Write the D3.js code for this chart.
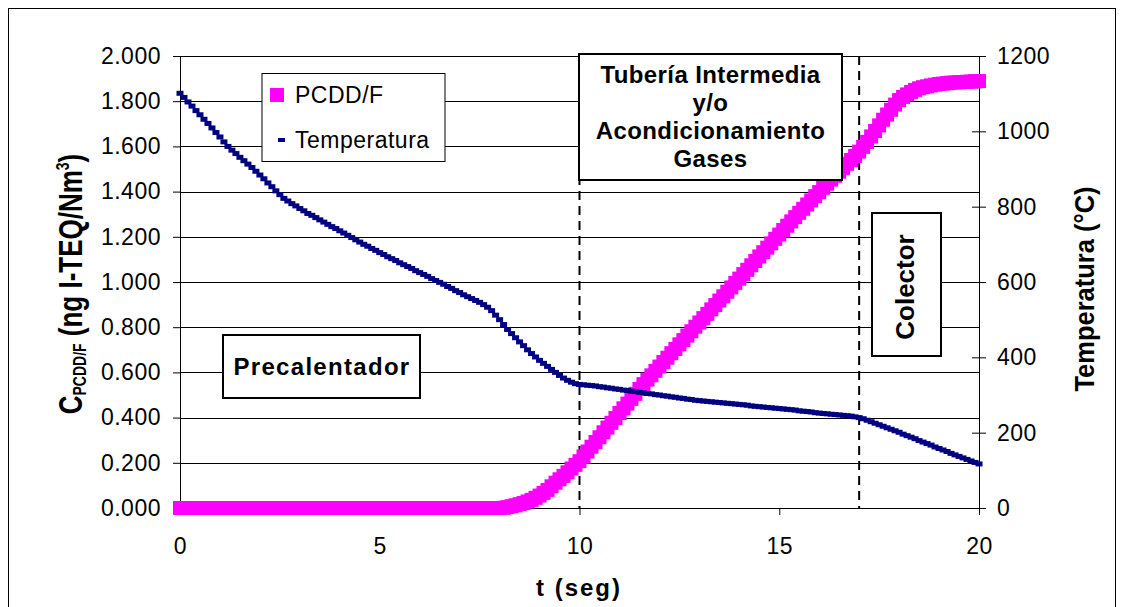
<!DOCTYPE html>
<html>
<head>
<meta charset="utf-8">
<script src="https://cdnjs.cloudflare.com/ajax/libs/d3/7.8.5/d3.min.js"></script>
<style>
  html, body { margin: 0; padding: 0; background: #fff; }
  svg { display: block; }
  text { font-family: "Liberation Sans", Arial, sans-serif; fill: #000; }
</style>
</head>
<body>
<svg id="chart" width="1124" height="607"></svg>
<script>
// Sampling step of the recorded profiles (seconds)
const sampleStep = 0.1;

// Temperature of the gas stream (°C), one reading every 0.1 s from t = 0 to t = 20 s
const temperatura = [
  1101, 1090, 1078, 1067, 1055, 1044, 1032, 1021, 1009, 997,
  985, 972, 960, 950, 941, 931, 922, 913, 904, 894,
  884, 874, 863, 853, 842, 832, 822, 815, 808, 802,
  795, 789, 782, 777, 771, 765, 759, 753, 747, 742,
  736, 730, 724, 718, 712, 706, 700, 695, 689, 684,
  678, 673, 667, 662, 657, 651, 646, 641, 636, 630,
  625, 620, 615, 609, 604, 599, 594, 588, 583, 577,
  572, 566, 561, 556, 551, 546, 540, 533, 524, 512,
  500, 487, 474, 463, 452, 441, 431, 420, 410, 401,
  392, 384, 376, 368, 360, 352, 345, 339, 334, 330,
  328, 327, 326, 325, 324, 322, 321, 319, 318, 316,
  315, 313, 312, 310, 309, 307, 306, 304, 303, 301,
  300, 298, 297, 295, 294, 292, 291, 289, 288, 286,
  285, 284, 283, 282, 281, 280, 279, 278, 277, 276,
  275, 274, 273, 271, 270, 269, 268, 267, 266, 265,
  264, 263, 262, 261, 260, 258, 257, 256, 255, 253,
  252, 251, 250, 249, 248, 247, 246, 245, 244, 242,
  240, 237, 233, 229, 225, 221, 217, 213, 209, 205,
  201, 196, 192, 188, 184, 179, 175, 171, 167, 162,
  158, 154, 150, 145, 141, 137, 133, 129, 125, 121,
  117
];

// PCDD/F concentration (ng I-TEQ/Nm3), same time base
const pcdd = [
  0, 0, 0, 0, 0, 0, 0, 0, 0, 0,
  0, 0, 0, 0, 0, 0, 0, 0, 0, 0,
  0, 0, 0, 0, 0, 0, 0, 0, 0, 0,
  0, 0, 0, 0, 0, 0, 0, 0, 0, 0,
  0, 0, 0, 0, 0, 0, 0, 0, 0, 0,
  0, 0, 0, 0, 0, 0, 0, 0, 0, 0,
  0, 0, 0, 0, 0, 0, 0, 0, 0, 0,
  0, 0, 0, 0, 0, 0, 0, 0, 0, 0,
  0, 0.001, 0.004, 0.008, 0.012, 0.017, 0.022, 0.029, 0.036, 0.045,
  0.055, 0.067, 0.080, 0.096, 0.112, 0.127, 0.142, 0.158, 0.175, 0.191,
  0.207, 0.228, 0.250, 0.271, 0.292, 0.313, 0.335, 0.356, 0.377, 0.398,
  0.420, 0.441, 0.462, 0.483, 0.505, 0.527, 0.548, 0.568, 0.587, 0.607,
  0.626, 0.646, 0.665, 0.685, 0.704, 0.724, 0.743, 0.763, 0.782, 0.802,
  0.821, 0.840, 0.859, 0.879, 0.898, 0.918, 0.937, 0.957, 0.976, 0.996,
  1.015, 1.035, 1.054, 1.074, 1.093, 1.113, 1.132, 1.152, 1.171, 1.191,
  1.210, 1.230, 1.249, 1.268, 1.287, 1.306, 1.324, 1.343, 1.361, 1.380,
  1.398, 1.417, 1.435, 1.453, 1.470, 1.488, 1.505, 1.523, 1.540, 1.558,
  1.577, 1.598, 1.620, 1.644, 1.668, 1.693, 1.718, 1.741, 1.762, 1.785,
  1.805, 1.819, 1.830, 1.841, 1.850, 1.857, 1.862, 1.866, 1.870, 1.873,
  1.876, 1.878, 1.880, 1.882, 1.883, 1.884, 1.885, 1.886, 1.887, 1.888,
  1.889
];

// Axis ticks
const xTicks = [0, 5, 10, 15, 20];
const leftTicks = [0, 0.2, 0.4, 0.6, 0.8, 1.0, 1.2, 1.4, 1.6, 1.8, 2.0];
const rightTicks = [0, 200, 400, 600, 800, 1000, 1200];

// Zone boundaries (s)
const zoneLimits = [10, 17];

// Legend entries
const seriesNames = ["PCDD/F", "Temperatura"];

const svg = d3.select("#chart");
const W = 1124, H = 607;
const margin = { top: 56, right: 145, bottom: 99, left: 180 };
const plotW = W - margin.left - margin.right;
const plotH = H - margin.top - margin.bottom;

const x = d3.scaleLinear().domain([0, 20]).range([0, plotW]);
const yL = d3.scaleLinear().domain([0, 2]).range([plotH, 0]);
const yR = d3.scaleLinear().domain([0, 1200]).range([plotH, 0]);

// Outer frame
svg.append("rect")
  .attr("x", 8.5).attr("y", 8.5)
  .attr("width", 1107).attr("height", 640)
  .attr("fill", "#fff").attr("stroke", "#000").attr("stroke-width", 1);

const g = svg.append("g").attr("transform", `translate(${margin.left},${margin.top})`);

// Horizontal gridlines
g.append("g").selectAll("line")
  .data(leftTicks.filter(d => d > 0))
  .join("line")
  .attr("x1", 0).attr("x2", plotW)
  .attr("y1", d => Math.round(yL(d)) + 0.5).attr("y2", d => Math.round(yL(d)) + 0.5)
  .attr("stroke", "#000").attr("stroke-width", 1);

// Axes
const fontReg = "23px";
const axL = g.append("g")
  .call(d3.axisLeft(yL).tickValues(leftTicks).tickFormat(d3.format(".3f"))
    .tickSize(7).tickSizeOuter(0).tickPadding(12));
const axR = g.append("g").attr("transform", `translate(${plotW},0)`)
  .call(d3.axisRight(yR).tickValues(rightTicks).tickFormat(d3.format("d"))
    .tickSize(7).tickSizeOuter(0).tickPadding(11));
axR.selectAll(".tick line").attr("x1", -7);
const axB = g.append("g").attr("transform", `translate(0,${plotH})`)
  .call(d3.axisBottom(x).tickValues(xTicks).tickFormat(d3.format("d"))
    .tickSize(7).tickSizeOuter(0).tickPadding(23));

[axL, axR, axB].forEach(a => {
  a.selectAll("path.domain").attr("stroke", "#000").attr("stroke-width", 1);
  a.selectAll(".tick line").attr("stroke", "#000");
  a.selectAll("text")
    .style("font-family", '"Liberation Sans", Arial, sans-serif')
    .style("font-size", fontReg).style("letter-spacing", "0.5px").attr("fill", "#000");
});

// Zone boundaries
g.append("g").selectAll("line")
  .data(zoneLimits)
  .join("line")
  .attr("x1", d => x(d)).attr("x2", d => x(d))
  .attr("y1", yL(2)).attr("y2", yL(0))
  .attr("stroke", "#000").attr("stroke-width", 2)
  .attr("stroke-dasharray", "9,6");

// PCDD/F markers
const pts = pcdd.map((v, i) => ({ t: i * sampleStep, v }));
g.append("g").selectAll("rect")
  .data(pts)
  .join("rect")
  .attr("x", d => x(d.t) - 7).attr("y", d => yL(d.v) - 7)
  .attr("width", 14).attr("height", 14)
  .attr("fill", "#ff00ff");

// Temperature markers
const tpts = temperatura.map((v, i) => ({ t: i * sampleStep, v }));
g.append("g").selectAll("rect")
  .data(tpts)
  .join("rect")
  .attr("x", d => x(d.t) - 3.5).attr("y", d => yR(d.v) - 2.5)
  .attr("width", 7).attr("height", 5)
  .attr("fill", "#000080");

// Axis titles
svg.append("text")
  .attr("x", 579).attr("y", 596)
  .attr("text-anchor", "middle")
  .style("font-size", "24px").style("font-weight", "bold").style("letter-spacing", "2px")
  .text("t (seg)");

const yTitle = svg.append("text")
  .attr("transform", "translate(82,284) rotate(-90) scale(1,1.3)")
  .attr("text-anchor", "middle")
  .style("font-size", "26px").style("font-weight", "bold");
yTitle.append("tspan").text("C");
yTitle.append("tspan").attr("dy", 3).style("font-size", "14px").text("PCDD/F");
yTitle.append("tspan").attr("dy", -3).text(" (ng I-TEQ/Nm");
yTitle.append("tspan").attr("dy", -10).style("font-size", "14px").text("3");
yTitle.append("tspan").attr("dy", 10).text(")");

svg.append("text")
  .attr("transform", "translate(1094,289) rotate(-90) scale(1,1.1)")
  .attr("text-anchor", "middle")
  .style("font-size", "25.5px").style("font-weight", "bold")
  .text("Temperatura (°C)");

// Zone labels
function box(x0, y0, x1, y1, sw) {
  svg.append("rect")
    .attr("x", x0).attr("y", y0).attr("width", x1 - x0).attr("height", y1 - y0)
    .attr("fill", "#fff").attr("stroke", "#000").attr("stroke-width", sw);
}

box(579, 54, 842, 180, 2);
const tuberia = ["Tubería Intermedia", "y/o", "Acondicionamiento", "Gases"];
svg.append("g").selectAll("text")
  .data(tuberia)
  .join("text")
  .attr("x", 710.5).attr("y", (d, i) => 83 + i * 28)
  .attr("text-anchor", "middle")
  .style("font-size", "24px").style("font-weight", "bold").style("letter-spacing", "0.4px")
  .text(d => d);

box(223, 335, 420, 398, 2);
svg.append("text")
  .attr("x", 322).attr("y", 375)
  .attr("text-anchor", "middle")
  .style("font-size", "24px").style("font-weight", "bold").style("letter-spacing", "1.3px")
  .text("Precalentador");

box(872, 213, 941, 356, 2);
svg.append("text")
  .attr("transform", "translate(914,287) rotate(-90)")
  .attr("text-anchor", "middle")
  .style("font-size", "26px").style("font-weight", "bold")
  .text("Colector");

// Legend
box(262, 73.5, 445, 161.5, 1);
svg.append("rect").attr("x", 270).attr("y", 88).attr("width", 14).attr("height", 14).attr("fill", "#ff00ff");
svg.append("rect").attr("x", 278).attr("y", 138).attr("width", 7).attr("height", 4).attr("fill", "#000080");
svg.append("g").selectAll("text")
  .data(seriesNames)
  .join("text")
  .attr("x", 295).attr("y", (d, i) => 103 + i * 44.5)
  .style("font-size", "23px").style("letter-spacing", "0.5px")
  .text(d => d);
</script>
</body>
</html>
